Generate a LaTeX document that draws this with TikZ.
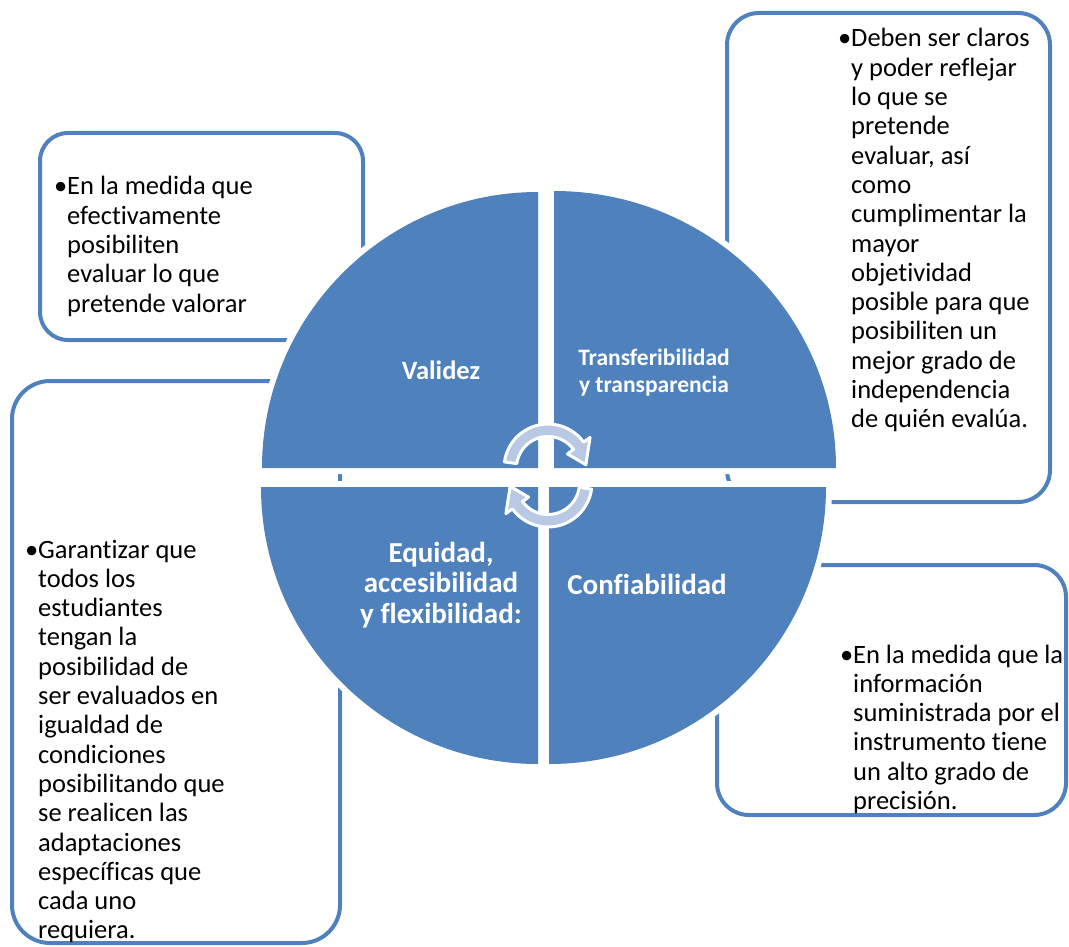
\documentclass[tikz,border=0pt]{standalone}
\usepackage{fontspec}
\setmainfont{Carlito}[Ligatures=NoCommon]
\definecolor{qblue}{RGB}{79,129,189}
\definecolor{lineblue}{RGB}{79,129,189}
\definecolor{arrowfill}{RGB}{185,201,227}
\newcommand{\bul}{\leavevmode\llap{•}}
\begin{document}
\begin{tikzpicture}[x=1pt,y=1pt,
  infobox/.style={draw=lineblue, line width=4pt, fill=white, rounded corners=#1, inner sep=0pt},
  quad/.style={fill=qblue, preaction={draw=white, line width=12pt}},
  qlabel/.style={text=white, inner sep=0pt, anchor=base},
  btext/.style={inner sep=0pt, anchor=base west, font=\fontsize{26.5}{29.3}\selectfont},
  cyc/.style={fill=arrowfill, draw=white, line width=3pt, line join=round}]
\useasboundingbox (0,0) rectangle (1069,-947);
% boxes
\node[infobox=28pt, minimum width=323pt, minimum height=207pt] (b1) at (201.5,-236.5) {};
\node[infobox=32pt, minimum width=323pt, minimum height=489pt] (b2) at (888.5,-257.5) {};
\node[infobox=38pt, minimum width=328pt, minimum height=562pt] (b3) at (176,-662) {};
\node[infobox=32pt, minimum width=349pt, minimum height=250pt] (b4) at (891.5,-690) {};
% quadrants
\path[quad] (538,-468) -- (262,-468) arc[start angle=180, end angle=90, radius=276] -- cycle;
\path[quad] (554,-468) -- (554,-191) arc[start angle=90, end angle=0, x radius=282, y radius=277] -- cycle;
\path[quad] (538,-487) -- (538,-764) arc[start angle=270, end angle=180, radius=277] -- cycle;
\path[quad] (549,-487) -- (826,-487) arc[start angle=0, end angle=-90, radius=277] -- cycle;
% quadrant labels
\node[qlabel, font=\fontsize{26.5}{30}\bfseries] (q1) at (441,-379) {Validez};
\node[qlabel, font=\fontsize{23.5}{27}\bfseries] (q2) at (654,-365) {\parbox[t]{220pt}{\centering Transferibilidad\\ y transparencia}};
\node[qlabel, font=\fontsize{29}{30.5}\bfseries] (q3) at (441,-562) {\parbox[t]{220pt}{\centering Equidad,\\ accesibilidad\\ y flexibilidad:}};
\node[qlabel, font=\fontsize{29}{30.5}\bfseries] (q4) at (647,-594) {Confiabilidad};
% cycle arrows
\path[cyc, shift={(548,-468)}] (172:44) arc[start angle=172, end angle=36, radius=44] -- (36:52) -- (5:38) -- (36:24) -- (36:31.5) arc[start angle=36, end angle=172, radius=31.5] -- cycle;
\path[cyc, shift={(548,-483)}, rotate=180] (172:44) arc[start angle=172, end angle=36, radius=44] -- (36:52) -- (5:38) -- (36:24) -- (36:31.5) arc[start angle=36, end angle=172, radius=31.5] -- cycle;
% box texts
\node[btext] (t1) at (67,-195) {\parbox[t]{290pt}{\raggedright\bul En la medida que\\ efectivamente\\ posibiliten\\ evaluar lo que\\ pretende valorar}};
\node[btext] (t2) at (851,-47) {\parbox[t]{200pt}{\raggedright\bul Deben ser claros\\ y poder reflejar\\ lo que se\\ pretende\\ evaluar, así\\ como\\ cumplimentar la\\ mayor\\ objetividad\\ posible para que\\ posibiliten un\\ mejor grado de\\ independencia\\ de quién evalúa.}};
\node[btext] (t3) at (38,-558) {\parbox[t]{290pt}{\raggedright\bul Garantizar que\\ todos los\\ estudiantes\\ tengan la\\ posibilidad de\\ ser evaluados en\\ igualdad de\\ condiciones\\ posibilitando que\\ se realicen las\\ adaptaciones\\ específicas que\\ cada uno\\ requiera.}};
\node[btext] (t4) at (853,-663) {\parbox[t]{210pt}{\raggedright\bul En la medida que la\\ información\\ suministrada por el\\ instrumento tiene\\ un alto grado de\\ precisión.}};
\end{tikzpicture}
\end{document}
